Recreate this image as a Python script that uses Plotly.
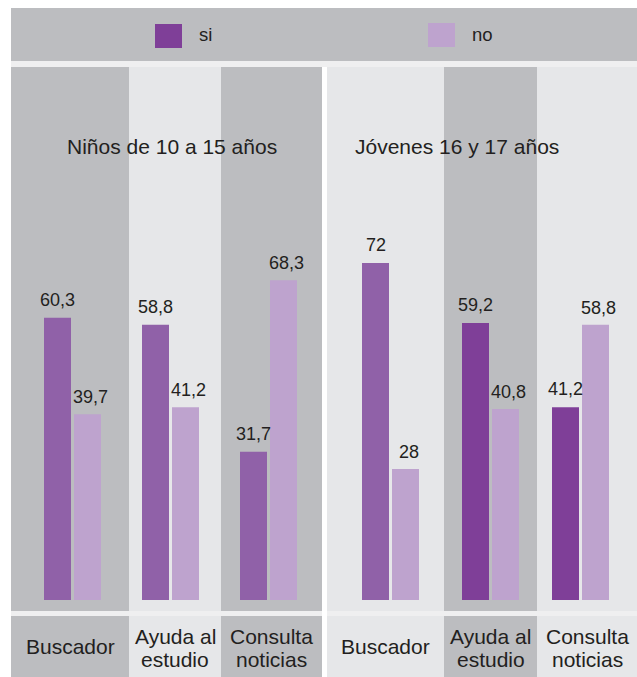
import plotly.graph_objects as go

# ---- data -------------------------------------------------------------
groups = ["Niños de 10 a 15 años", "Jóvenes 16 y 17 años"]
categories = ["Buscador", "Ayuda al<br>estudio", "Consulta<br>noticias",
              "Buscador", "Ayuda al<br>estudio", "Consulta<br>noticias"]
series_names = ["si", "no"]
si_values = [60.3, 58.8, 31.7, 72, 59.2, 41.2]
no_values = [39.7, 41.2, 68.3, 28, 40.8, 58.8]

# ---- layout constants (pixel canvas) ------------------------------------
W, H = 637, 677
BASE_PX = 600          # pixel row of value 0
PX_PER_UNIT = 4.68     # vertical scale

GRAY = "#bcbdc0"
LIGHT = "#e6e7e9"
STRIP = "#efeff0"
SI_MID = "#9061a8"
SI_DARK = "#7f3f98"
NO_COL = "#bea3ce"
TEXT = "#231f20"
FONT = "Liberation Sans, Arial, sans-serif"

col_edges = [(11, 129), (129, 221), (221, 322), (327, 444), (444, 537), (537, 637)]
col_fill = [GRAY, LIGHT, GRAY, LIGHT, GRAY, LIGHT]
bar_centers = [72.5, 170.5, 268.5, 390.5, 490.5, 580.5]
si_colors = [SI_MID, SI_MID, SI_MID, SI_MID, SI_DARK, SI_DARK]
BAR_W = 27
GAP = 3


def px(x):
    return x / W


def py(y):
    return 1 - y / H


fig = go.Figure()

fig.add_trace(go.Bar(
    name=series_names[0], x=bar_centers, y=si_values,
    width=BAR_W, offset=-(BAR_W + GAP / 2),
    marker=dict(color=si_colors, line=dict(width=0)),
    showlegend=False, hoverinfo="y",
))
fig.add_trace(go.Bar(
    name=series_names[1], x=bar_centers, y=no_values,
    width=BAR_W, offset=GAP / 2,
    marker=dict(color=NO_COL, line=dict(width=0)),
    showlegend=False, hoverinfo="y",
))

shapes = []


def rect(x0, y0, x1, y1, color):
    shapes.append(dict(type="rect", xref="paper", yref="paper",
                       x0=px(x0), x1=px(x1), y0=py(y1), y1=py(y0),
                       fillcolor=color, line=dict(width=0), layer="below"))


# legend band and light strips
rect(11, 8, W, 61, GRAY)
rect(11, 61, W, 67, STRIP)
rect(11, 611, W, 616, STRIP)
rect(322, 67, 327, H, "#ffffff")

# column backgrounds: plot panel and label band
for (x0, x1), c in zip(col_edges, col_fill):
    rect(x0, 67, x1, 611, c)
    rect(x0, 616, x1, H, c)

# legend swatches
rect(155, 24, 182, 48, SI_DARK)
rect(428, 23, 455, 47, NO_COL)

annotations = []


def label(x, y, text, size, xanchor="center"):
    annotations.append(dict(xref="paper", yref="paper", x=px(x), y=py(y),
                            text=text, showarrow=False, xanchor=xanchor,
                            yanchor="middle",
                            font=dict(family=FONT, size=size, color=TEXT)))


# legend labels
label(197, 35, series_names[0], 18.5, "left")
label(470, 35, series_names[1], 18.5, "left")

# group titles
label(171.5, 147, groups[0], 21)
label(457, 147, groups[1], 21)

# category labels
for (x0, x1), cat in zip(col_edges, categories):
    cx = (x0 + x1) / 2
    lines = cat.split("<br>")
    if len(lines) == 1:
        label(cx, 646, lines[0], 21)
    else:
        label(cx, 636, lines[0], 21)
        label(cx, 659, lines[1], 21)

# value labels above bars
def fmt(v):
    return (f"{v:g}").replace(".", ",")


for c, s, n in zip(bar_centers, si_values, no_values):
    annotations.append(dict(x=c - (BAR_W + GAP) / 2, y=s, xref="x", yref="y",
                            text=fmt(s), showarrow=False, yanchor="middle",
                            yshift=18,
                            font=dict(family=FONT, size=18, color=TEXT)))
    annotations.append(dict(x=c + (BAR_W + GAP) / 2, y=n, xref="x", yref="y",
                            text=fmt(n), showarrow=False, yanchor="middle",
                            yshift=17, xshift=3,
                            font=dict(family=FONT, size=18, color=TEXT)))

fig.update_layout(
    width=W, height=H,
    margin=dict(l=0, r=0, t=0, b=0),
    paper_bgcolor="#ffffff", plot_bgcolor="rgba(0,0,0,0)",
    barmode="overlay",
    shapes=shapes, annotations=annotations,
    xaxis=dict(range=[0, W], visible=False, fixedrange=True),
    yaxis=dict(range=[-(H - BASE_PX) / PX_PER_UNIT, BASE_PX / PX_PER_UNIT],
               visible=False, fixedrange=True),
    font=dict(family=FONT, color=TEXT),
)

fig.write_html("out.html", config={"displayModeBar": False})
